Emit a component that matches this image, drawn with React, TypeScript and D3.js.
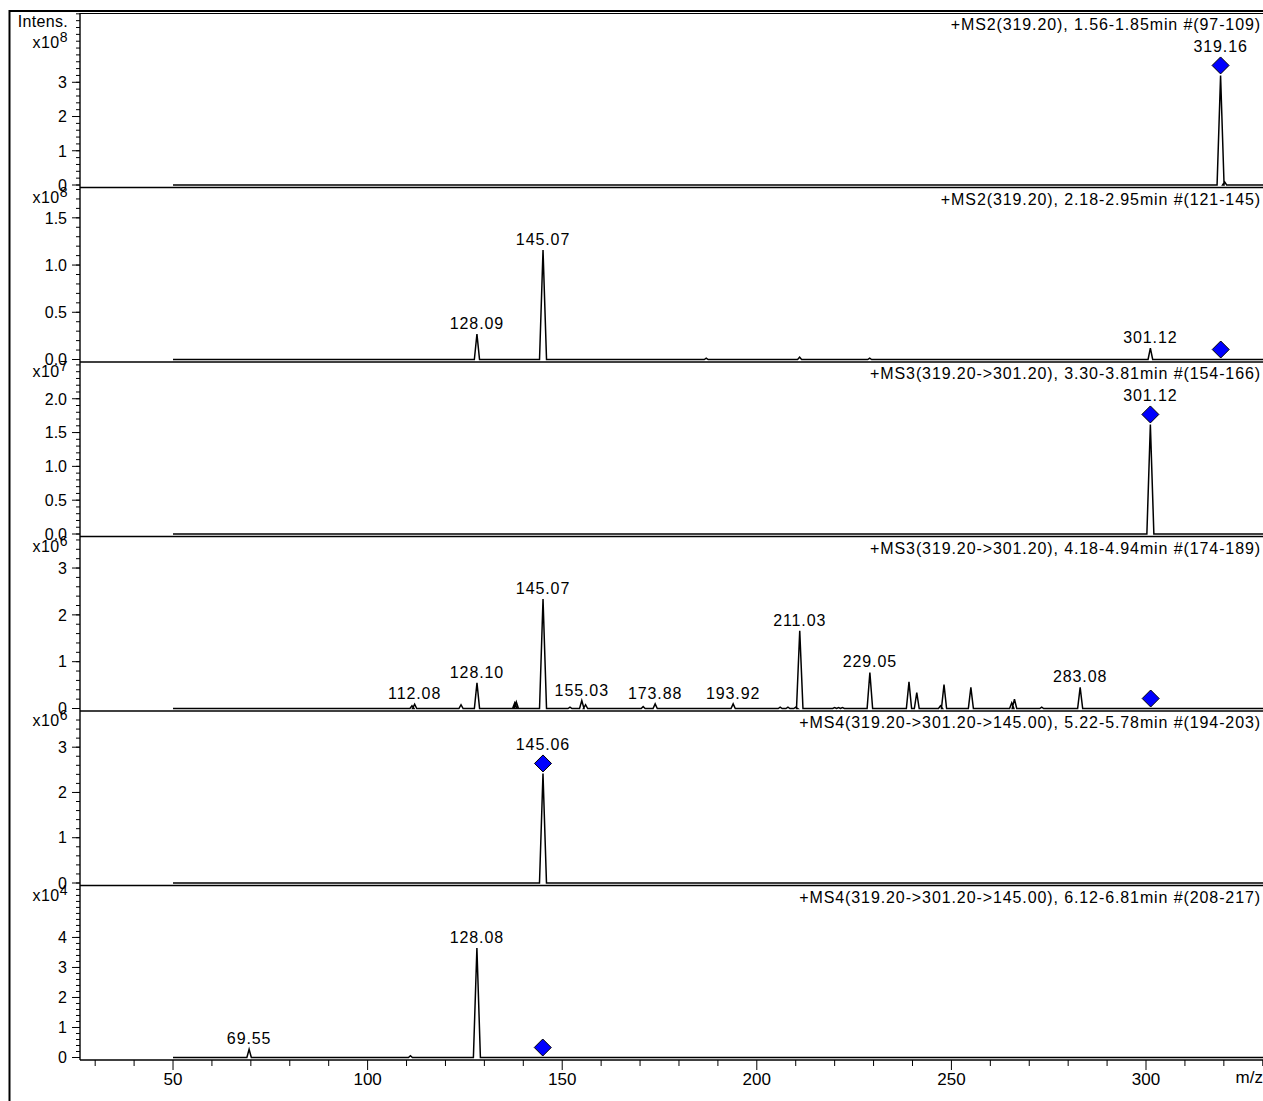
import * as d3 from "d3";

const WIDTH = 1263;
const HEIGHT = 1101;
const FONT = "'Liberation Sans', Arial, Helvetica, sans-serif";

// panel headers
const titles = [
  "+MS2(319.20), 1.56-1.85min #(97-109)",
  "+MS2(319.20), 2.18-2.95min #(121-145)",
  "+MS3(319.20->301.20), 3.30-3.81min #(154-166)",
  "+MS3(319.20->301.20), 4.18-4.94min #(174-189)",
  "+MS4(319.20->301.20->145.00), 5.22-5.78min #(194-203)",
  "+MS4(319.20->301.20->145.00), 6.12-6.81min #(208-217)",
];
const exponents = [8, 8, 7, 6, 6, 4];
const precursors = [319.2, 319.2, 301.2, 301.2, 145.0, 145.0];

// y ticks per panel (in units of 10^exponent)
const majorTicks = [
  [0, 1, 2, 3],
  [0, 0.5, 1.0, 1.5],
  [0, 0.5, 1.0, 1.5, 2.0],
  [0, 1, 2, 3],
  [0, 1, 2, 3],
  [0, 1, 2, 3, 4],
];
const minorSteps = [0.2, 0.1, 0.1, 0.2, 0.2, 0.2];
const tickDigits = [0, 1, 1, 0, 0, 0];

// peaks: [m/z, intensity, labelled]
type Peak = [number, number, boolean?];
const peaks1: Peak[] = [
  [319.16, 3.2, true],
  [320.2, 0.09],
];
const peaks2: Peak[] = [
  [128.09, 0.27, true],
  [145.07, 1.16, true],
  [187.0, 0.015],
  [211.0, 0.025],
  [229.0, 0.015],
  [301.12, 0.12, true],
];
const peaks3: Peak[] = [[301.12, 1.62, true]];
const peaks4: Peak[] = [
  [111.4, 0.06],
  [112.08, 0.09, true],
  [124.0, 0.08],
  [128.1, 0.55, true],
  [137.8, 0.12],
  [138.2, 0.14],
  [145.07, 2.34, true],
  [152.0, 0.03],
  [155.03, 0.17, true],
  [156.0, 0.08],
  [170.8, 0.04],
  [173.88, 0.1, true],
  [193.92, 0.1, true],
  [206.0, 0.03],
  [208.0, 0.03],
  [210.0, 0.03],
  [211.03, 1.66, true],
  [220.0, 0.02],
  [221.0, 0.02],
  [222.0, 0.02],
  [229.05, 0.77, true],
  [239.1, 0.57],
  [241.1, 0.34],
  [247.2, 0.06],
  [248.1, 0.51],
  [255.0, 0.45],
  [265.5, 0.12],
  [266.2, 0.2],
  [273.2, 0.03],
  [283.08, 0.45, true],
];
const peaks5: Peak[] = [[145.06, 2.42, true]];
const peaks6: Peak[] = [
  [69.55, 0.27, true],
  [111.0, 0.06],
  [128.08, 3.65, true],
];
const spectra = [peaks1, peaks2, peaks3, peaks4, peaks5, peaks6];

const xMajor = [50, 100, 150, 200, 250, 300];
const scanRange = [50, 331];

const plotLeft = 80;
const plotTop = 13;
const plotBottom = 1060;
const panelH = (plotBottom - plotTop) / spectra.length;
const headroom = 1.57;

const x = d3.scaleLinear().domain([26.1, 330.06]).range([plotLeft, WIDTH]);

function Panel({ i }: { i: number }) {
  const peaks = spectra[i];
  const top = plotTop + i * panelH;
  const sep = top + panelH;
  const zero = sep - 2.5;
  const maxI = d3.max(peaks, (p) => p[1]) ?? 1;
  const y = d3.scaleLinear().domain([0, maxI * headroom]).range([zero, top]);

  const pts: [number, number][] = [[scanRange[0], 0]];
  peaks
    .slice()
    .sort((a, b) => a[0] - b[0])
    .forEach(([mz, v]) => {
      const hw = 0.45 + 0.45 * Math.sqrt(v / maxI);
      pts.push([mz - hw, 0], [mz, v], [mz + hw, 0]);
    });
  pts.push([scanRange[1], 0]);
  const line = d3
    .line<[number, number]>()
    .x((d) => x(d[0]))
    .y((d) => y(d[1]));

  const prec = precursors[i];
  const hit = peaks.find((p) => Math.abs(p[0] - prec) < 0.5);
  const dx = x(hit ? hit[0] : prec);
  const dy = y(hit ? hit[1] : 0) - 10;
  const r = 8.5;

  const minor = d3.range(0, maxI * headroom, minorSteps[i]);
  const fmt = d3.format(`.${tickDigits[i]}f`);

  return (
    <g>
      <line x1={plotLeft} x2={WIDTH} y1={sep} y2={sep} stroke="#000" strokeWidth={1.5} />
      {i === 0 && (
        <line x1={plotLeft} x2={WIDTH} y1={top + 0.5} y2={top + 0.5} stroke="#000" strokeWidth={1} />
      )}
      {minor.map((t) => (
        <line key={"m" + t} x1={plotLeft - 4} x2={plotLeft} y1={y(t)} y2={y(t)} stroke="#000" />
      ))}
      {majorTicks[i].map((t) => (
        <g key={"M" + t}>
          <line x1={plotLeft - 8} x2={plotLeft} y1={y(t)} y2={y(t)} stroke="#000" />
          <text x={67} y={y(t)} dy="0.36em" textAnchor="end" fontSize={16}>
            {fmt(t)}
          </text>
        </g>
      ))}
      <text x={68} y={top + (i === 0 ? 35 : 15)} textAnchor="end" fontSize={16} letterSpacing={0.5}>
        x10
        <tspan dy={-6} fontSize={14}>
          {exponents[i]}
        </tspan>
      </text>
      {i === 0 && (
        <text x={68} y={top + 14} textAnchor="end" fontSize={16} letterSpacing={0.3}>
          Intens.
        </text>
      )}
      <text x={WIDTH - 2} y={top + 17} textAnchor="end" fontSize={16} letterSpacing={0.9}>
        {titles[i]}
      </text>
      <path d={line(pts) ?? ""} fill="none" stroke="#000" strokeWidth={1.5} strokeLinejoin="miter" />
      {peaks
        .filter((p) => p[2])
        .map(([mz, v]) => {
          const withDiamond = hit && hit[0] === mz;
          const ly = withDiamond ? dy - r - 5 : y(v) - 5;
          return (
            <text key={"l" + mz} x={x(mz)} y={ly} textAnchor="middle" fontSize={16} letterSpacing={0.9}>
              {mz.toFixed(2)}
            </text>
          );
        })}
      <path
        d={`M${dx},${dy - r}L${dx + r},${dy}L${dx},${dy + r}L${dx - r},${dy}Z`}
        fill="#0000ff"
        stroke="#000"
        strokeWidth={1}
      />
    </g>
  );
}

export default function App() {
  const xMinor = d3.range(30, 331, 10).filter((v) => !xMajor.includes(v));
  return (
    <svg
      width={WIDTH}
      height={HEIGHT}
      style={{ position: "absolute", left: 0, top: 0, background: "#fff" }}
      fontFamily={FONT}
    >
      <rect width={WIDTH} height={HEIGHT} fill="#fff" />
      <line x1={9.5} x2={9.5} y1={10} y2={HEIGHT} stroke="#000" strokeWidth={2} />
      <line x1={9.5} x2={WIDTH} y1={11} y2={11} stroke="#000" strokeWidth={2} />
      <line x1={plotLeft} x2={plotLeft} y1={plotTop} y2={plotBottom} stroke="#000" strokeWidth={1.4} />
      {spectra.map((_, i) => (
        <Panel key={i} i={i} />
      ))}
      {xMinor.map((v) => (
        <line key={"xm" + v} x1={x(v)} x2={x(v)} y1={plotBottom} y2={plotBottom + 6} stroke="#000" />
      ))}
      {xMajor.map((v) => (
        <g key={"xM" + v}>
          <line x1={x(v)} x2={x(v)} y1={plotBottom} y2={plotBottom + 10} stroke="#000" />
          <text x={x(v)} y={1085} textAnchor="middle" fontSize={17}>
            {v}
          </text>
        </g>
      ))}
      <text x={WIDTH} y={1083} textAnchor="end" fontSize={17}>
        m/z
      </text>
    </svg>
  );
}
